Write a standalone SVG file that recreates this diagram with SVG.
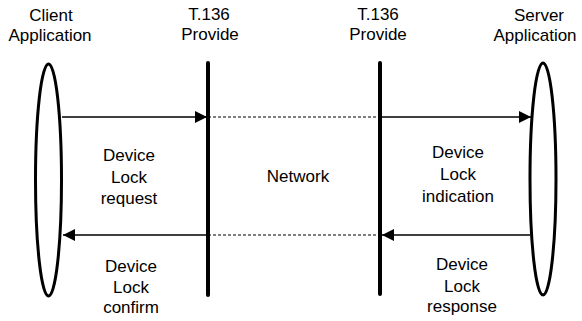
<svg xmlns="http://www.w3.org/2000/svg" width="582" height="321" viewBox="0 0 582 321">
<defs>
<style>
text{font-family:"Liberation Sans",Arial,sans-serif;font-size:17px;fill:#000;text-anchor:middle}
.app{fill:none;stroke:#000;stroke-width:3}
.prov{stroke:#000;stroke-width:4;stroke-linecap:round}
.msg{stroke:#000;stroke-width:1.3;fill:none}
.net{stroke:#000;stroke-width:1.2;stroke-dasharray:3 2;fill:none}
</style>
<marker id="ah" viewBox="0 0 12 12" refX="12" refY="6" markerWidth="12" markerHeight="12" markerUnits="userSpaceOnUse" orient="auto">
<path d="M0,0 L12,6 L0,12 Z" fill="#000"/>
</marker>
</defs>
<rect width="582" height="321" fill="#fff"/>
<g id="client">
<ellipse class="app" cx="48.5" cy="180" rx="13" ry="116"/>
<text x="51" y="21">Client</text>
<text x="50" y="41">Application</text>
</g>
<g id="provider-left">
<line class="prov" x1="208" y1="63" x2="208" y2="295"/>
<text x="209" y="20">T.136</text>
<text x="210" y="40">Provide</text>
</g>
<g id="provider-right">
<line class="prov" x1="380" y1="63" x2="380" y2="294"/>
<text x="378" y="20">T.136</text>
<text x="378" y="40">Provide</text>
</g>
<g id="server">
<ellipse class="app" cx="543" cy="179" rx="13" ry="116"/>
<text x="539" y="21">Server</text>
<text x="535" y="41">Application</text>
</g>
<g id="connectors">
<line class="msg" x1="62" y1="117" x2="207" y2="117" marker-end="url(#ah)"/>
<line class="net" x1="208" y1="117" x2="380" y2="117"/>
<line class="msg" x1="380" y1="117" x2="531" y2="117" marker-end="url(#ah)"/>
<line class="msg" x1="530" y1="235" x2="382" y2="235" marker-end="url(#ah)"/>
<line class="net" x1="208" y1="235" x2="380" y2="235"/>
<line class="msg" x1="208" y1="235" x2="63" y2="235" marker-end="url(#ah)"/>
</g>
<g id="labels">
<text x="129" y="161">Device</text>
<text x="129" y="183">Lock</text>
<text x="129" y="204">request</text>
<text x="298" y="182">Network</text>
<text x="458" y="158">Device</text>
<text x="458" y="180">Lock</text>
<text x="458" y="202">indication</text>
<text x="131" y="272">Device</text>
<text x="131" y="293">Lock</text>
<text x="131" y="313">confirm</text>
<text x="462" y="270">Device</text>
<text x="462" y="292">Lock</text>
<text x="462" y="312">response</text>
</g>
</svg>
